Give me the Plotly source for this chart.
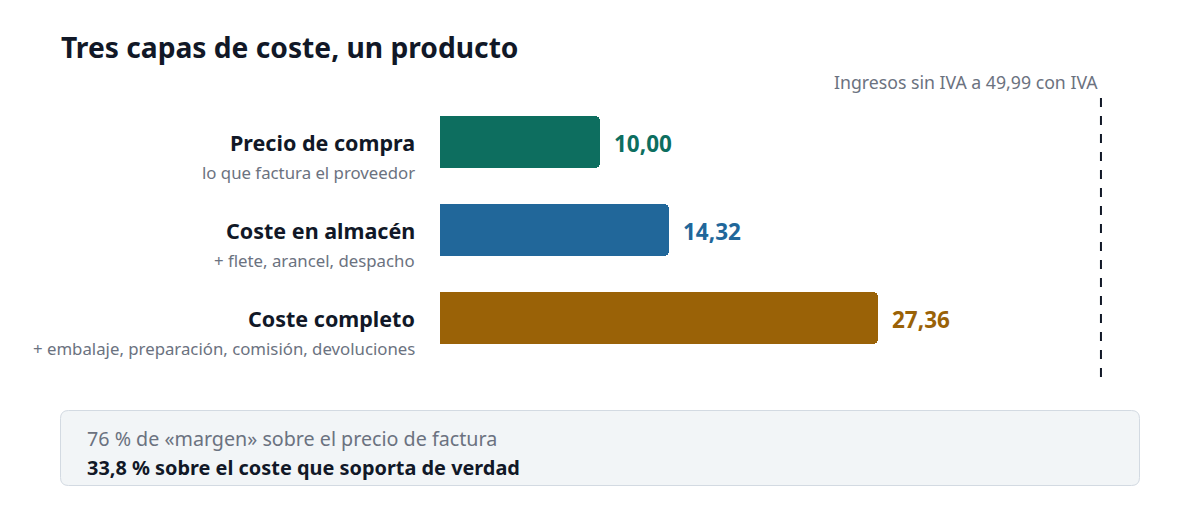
import plotly.graph_objects as go

# ---- data ----
categories = ["Precio de compra", "Coste en almacén", "Coste completo"]
subtitles = ["lo que factura el proveedor", "+ flete, arancel, despacho",
             "+ embalaje, preparación, comisión, devoluciones"]
values = [10.00, 14.32, 27.36]
value_labels = ["10,00", "14,32", "27,36"]
colors = ["#0d6e5f", "#21679a", "#9a6207"]
revenue_ex_vat = 41.31
revenue_label = "Ingresos sin IVA a 49,99 con IVA"
note_line1 = "76 % de «margen» sobre el precio de factura"
note_line2 = "33,8 % sobre el coste que soporta de verdad"
title = "Tres capas de coste, un producto"

FONT = "Noto Sans, Open Sans, sans-serif"
W, H = 1200, 520
OFF = 8  # page body offset
# target pixel geometry (in screenshot coords)
PL, PT, PB = 440, 98, 362
PW = 700
L = PL - OFF
T = PT - OFF
B = H - (PB - OFF)
R = W - L - PW
PH = PB - PT

def px_x(p):
    return (p - PL) / PW

def px_y(p):
    return (PB - p) / PH

ypos = list(range(len(categories)))

fig = go.Figure()
fig.add_trace(go.Bar(
    x=values, y=ypos, orientation="h",
    marker=dict(color=colors, cornerradius=5, line=dict(width=0)),
    width=0.59, hoverinfo="skip", showlegend=False,
))

annotations = []
for i, (cat, sub, v, lab, c) in enumerate(zip(categories, subtitles, values, value_labels, colors)):
    annotations.append(dict(x=px_x(417), xref="paper", y=i, yref="y", text=f"<b>{cat}</b>",
                            xanchor="right", yanchor="middle", showarrow=False, yshift=0,
                            font=dict(family=FONT, size=21.5, color="#111827")))
    annotations.append(dict(x=px_x(417), xref="paper", y=i, yref="y", text=sub,
                            xanchor="right", yanchor="middle", showarrow=False, yshift=-30,
                            font=dict(family=FONT, size=16.8, color="#6b7280")))
    annotations.append(dict(x=v, xref="x", y=i, yref="y", text=f"<b>{lab}</b>",
                            xanchor="left", yanchor="middle", showarrow=False, xshift=12, yshift=-1,
                            font=dict(family=FONT, size=22.5, color=c)))

annotations.append(dict(x=px_x(59), xref="paper", y=px_y(47), yref="paper", text=f"<b>{title}</b>",
                        xanchor="left", yanchor="middle", showarrow=False,
                        font=dict(family=FONT, size=28.2, color="#111827")))
annotations.append(dict(x=revenue_ex_vat, xref="x", y=px_y(82), yref="paper", text=revenue_label,
                        xanchor="right", yanchor="middle", showarrow=False, xshift=-1,
                        font=dict(family=FONT, size=17.7, color="#6b7280")))
annotations.append(dict(x=px_x(85), xref="paper", y=px_y(438), yref="paper", text=note_line1,
                        xanchor="left", yanchor="middle", showarrow=False,
                        font=dict(family=FONT, size=19.7, color="#6b7280")))
annotations.append(dict(x=px_x(85), xref="paper", y=px_y(467), yref="paper", text=f"<b>{note_line2}</b>",
                        xanchor="left", yanchor="middle", showarrow=False,
                        font=dict(family=FONT, size=19.9, color="#111827")))

# rounded note box (paper coords)
x0, x1, y0, y1, r = px_x(60.5), px_x(1139.5), px_y(410.5), px_y(485.5), 8
rx, ry = r / PW, r / PH
path = (f"M {x0+rx},{y0} L {x1-rx},{y0} Q {x1},{y0} {x1},{y0-ry} "
        f"L {x1},{y1+ry} Q {x1},{y1} {x1-rx},{y1} L {x0+rx},{y1} "
        f"Q {x0},{y1} {x0},{y1+ry} L {x0},{y0-ry} Q {x0},{y0} {x0+rx},{y0} Z")

shapes = [
    dict(type="line", xref="x", yref="paper", x0=revenue_ex_vat, x1=revenue_ex_vat,
         y0=px_y(377), y1=px_y(95), line=dict(color="#111827", width=2, dash="dash")),
    dict(type="path", xref="paper", yref="paper", path=path,
         fillcolor="#f2f5f7", line=dict(color="#d3dae2", width=1), layer="below"),
]

fig.update_layout(
    width=W, height=H,
    margin=dict(l=L, r=R, t=T, b=B, autoexpand=False),
    paper_bgcolor="white", plot_bgcolor="white",
    xaxis=dict(range=[0, PW / 16], visible=False, fixedrange=True),
    yaxis=dict(range=[2.5, -0.5], visible=False, fixedrange=True),
    annotations=annotations, shapes=shapes,
    bargap=0, showlegend=False,
    font=dict(family=FONT),
)

fig.write_html("out.html", config={"displayModeBar": False})
